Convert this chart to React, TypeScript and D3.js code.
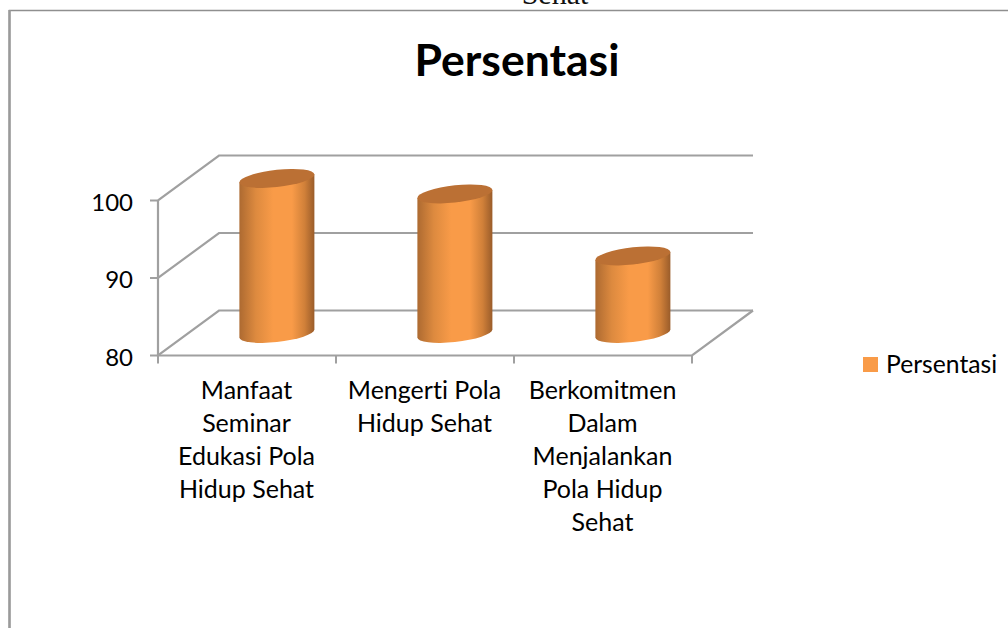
import React from "react";
import * as d3 from "d3";

const categories = ["Manfaat Seminar Edukasi Pola Hidup Sehat", "Mengerti Pola Hidup Sehat", "Berkomitmen Dalam Menjalankan Pola Hidup Sehat"];
const categoryLines = [
  ["Manfaat", "Seminar", "Edukasi Pola", "Hidup Sehat"],
  ["Mengerti Pola", "Hidup Sehat"],
  ["Berkomitmen", "Dalam", "Menjalankan", "Pola Hidup", "Sehat"],
];
const values = [100, 98, 90];
const yTicks = [80, 90, 100];
const seriesName = "Persentasi";
const titleText = "Persentasi";

const W = 1008, H = 628;
const font = "Lato, 'Open Sans', sans-serif";
const grid = "#a0a0a0";
const x0 = 158, x1 = 692, depthX = 61, depthY = -45;
const y = d3.scaleLinear().domain([80, 100]).range([355.5, 200.5]);
const x = d3.scaleBand<number>().domain(d3.range(categories.length)).range([x0, x1]);
const t = 0.49; // bar position in the depth of the floor
const barW = 75, k = -8 / 75, ry = 8.6;

export default function App() {
  return (
    <svg width={W} height={H} style={{ position: "absolute", left: 0, top: 0, background: "#fff", fontVariantLigatures: "none" }}>
      <defs>
        <linearGradient id="cyl" x1="0" x2="1" y1="0" y2="0">
          <stop offset="0" stopColor="#ad6a31" />
          <stop offset="0.22" stopColor="#dd8a3f" />
          <stop offset="0.45" stopColor="#f99b48" />
          <stop offset="0.7" stopColor="#f99b48" />
          <stop offset="0.87" stopColor="#d08039" />
          <stop offset="1" stopColor="#9a5c2a" />
        </linearGradient>
      </defs>
      <text x={555} y={4} fontFamily="'Liberation Serif', serif" fontSize={30} textAnchor="middle" fill="#111">Sehat</text>
      <path d={`M${W},10.5H9.5V${H}`} fill="none" stroke="#8f8f8f" strokeWidth={1.5} />
      <line x1={9.5} x2={9.5} y1={10} y2={H} stroke="#9a9a9a" strokeWidth={2.5} />
      <text x={517} y={76} fontFamily={font} fontSize={44.5} fontWeight={700} textAnchor="middle" fill="#000">{titleText}</text>

      {yTicks.map((v) => (
        <path key={v} d={`M${x0 - 8},${y(v)}H${x0}L${x0 + depthX},${y(v) + depthY}H${x1 + depthX}`} fill="none" stroke={grid} strokeWidth={2.2} />
      ))}
      <path d={`M${x0},${y(100)}V${y(80)}H${x1}L${x1 + depthX},${y(80) + depthY}`} fill="none" stroke={grid} strokeWidth={2.2} />
      {[0, 1, 2, 3].map((i) => {
        const px = i < 3 ? x(i)! : x1;
        return <line key={i} x1={px} x2={px} y1={y(80)} y2={y(80) + 8} stroke={grid} strokeWidth={2} />;
      })}

      {values.map((v, i) => {
        const cx = x(i)! + x.bandwidth() / 2 + t * depthX;
        const by = y(80) + t * depthY;
        const h = y(80) - y(v);
        const r = barW / 2;
        return (
          <g key={i} transform={`matrix(1,${k},0,1,${cx},${by})`}>
            <path d={`M${-r},${-h}V0A${r},${ry} 0 0 0 ${r},0V${-h}Z`} fill="url(#cyl)" />
            <ellipse cx={0} cy={-h} rx={r} ry={ry} fill="#bb7034" />
          </g>
        );
      })}

      {yTicks.map((v) => (
        <text key={v} x={133} y={y(v) + 10} fontFamily={font} fontSize={24} textAnchor="end" fill="#000">{v}</text>
      ))}
      {categoryLines.map((lines, i) => (
        <text key={i} fontFamily={font} fontSize={25} textAnchor="middle" fill="#000">
          {lines.map((l, j) => (
            <tspan key={j} x={x(i)! + x.bandwidth() / 2 - 0.5} y={398.5 + j * 33}>{l}</tspan>
          ))}
        </text>
      ))}
      <rect x={863} y={357} width={15} height={15} fill="#f99b48" />
      <text x={886} y={373} fontFamily={font} fontSize={24.7} fill="#000">{seriesName}</text>
    </svg>
  );
}
